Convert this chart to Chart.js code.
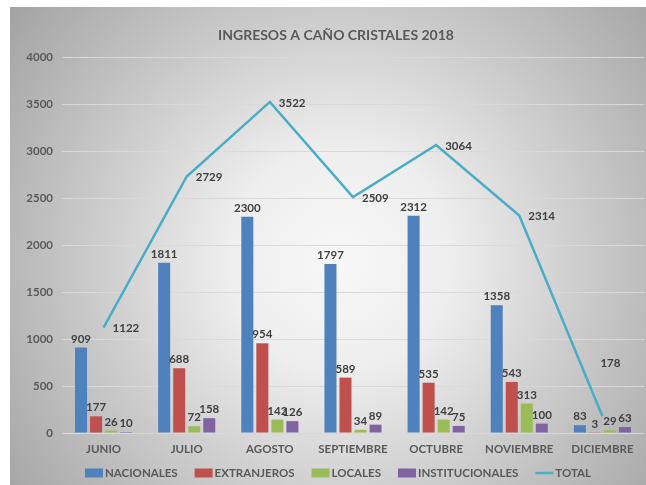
<!DOCTYPE html>
<html><head><meta charset="utf-8">
<script src="https://cdn.jsdelivr.net/npm/chart.js@4"></script>
<style>html,body{margin:0;padding:0;background:#fff;} #wrap{width:646px;height:485px;position:relative}</style>
</head><body><div id="wrap"><canvas id="c" width="646" height="485"></canvas></div>
<script>
const categories = ['JUNIO','JULIO','AGOSTO','SEPTIEMBRE','OCTUBRE','NOVIEMBRE','DICIEMBRE'];
const nacionales = [909, 1811, 2300, 1797, 2312, 1358, 83];
const extranjeros = [177, 688, 954, 589, 535, 543, 3];
const locales = [26, 72, 142, 34, 142, 313, 29];
const institucionales = [10, 158, 126, 89, 75, 100, 63];
const total = [1122, 2729, 3522, 2509, 3064, 2314, 178];
const seriesNames = ['NACIONALES','EXTRANJEROS','LOCALES','INSTITUCIONALES','TOTAL'];
const chartTitle = 'INGRESOS A CAÑO CRISTALES 2018';
const yMin = 0, yMax = 4000, yStep = 500;

const FONT = 'Lato';
const AXIS_COLOR = '#595959';
const LABEL_COLOR = '#404040';

const bgPlugin = {
  id: 'bg',
  beforeDraw(chart) {
    const ctx = chart.ctx;
    ctx.save();
    ctx.fillStyle = '#ffffff';
    ctx.fillRect(0, 0, chart.width, chart.height);
    const g = ctx.createRadialGradient(340, 260, 0, 340, 260, 450);
    g.addColorStop(0, '#f8f8f8');
    g.addColorStop(0.25, '#eeeeee');
    g.addColorStop(0.55, '#cbcbcb');
    g.addColorStop(0.8, '#b0b0b0');
    g.addColorStop(1, '#9a9a9a');
    ctx.fillStyle = g;
    ctx.fillRect(10, 7, chart.width - 10, chart.height - 7);
    ctx.restore();
  }
};

const labelPlugin = {
  id: 'labels',
  afterDatasetsDraw(chart, args, opts) {
    const ctx = chart.ctx;
    ctx.save();
    ctx.font = 'bold 11.5px ' + FONT;
    ctx.fillStyle = LABEL_COLOR;
    chart.data.datasets.forEach((ds, di) => {
      const meta = chart.getDatasetMeta(di);
      meta.data.forEach((el, i) => {
        const v = ds.data[i];
        if (ds.type === 'line') {
          const off = (opts.lineOffsets && opts.lineOffsets[i]) || [9, 1];
          ctx.textAlign = 'left';
          ctx.textBaseline = 'middle';
          ctx.fillText(String(v), el.x + off[0], el.y + off[1]);
        } else {
          ctx.textAlign = 'center';
          ctx.textBaseline = 'bottom';
          ctx.fillText(String(v), el.x, el.y - 3);
        }
      });
    });
    ctx.restore();
  },
  afterDraw(chart) {
    const ctx = chart.ctx;
    ctx.save();
    ctx.font = 'bold 14px ' + FONT;
    ctx.fillStyle = AXIS_COLOR;
    ctx.textAlign = 'center';
    ctx.textBaseline = 'middle';
    ctx.fillText(chartTitle, 336, 35);
    ctx.font = 'bold 11.5px ' + FONT;
    const boxW = 18, boxH = 9, gap = 2, spacing = 17, cy = 473;
    const items = chart.data.datasets.map(ds => ({
      label: ds.label, color: ds.type === 'line' ? ds.borderColor : ds.backgroundColor, line: ds.type === 'line',
      w: boxW + gap + ctx.measureText(ds.label).width
    }));
    const totalW = items.reduce((s, it) => s + it.w, 0) + spacing * (items.length - 1);
    let x = 338 - totalW / 2;
    ctx.textAlign = 'left';
    ctx.textBaseline = 'middle';
    items.forEach(it => {
      if (it.line) {
        ctx.strokeStyle = it.color;
        ctx.lineWidth = 2.5;
        ctx.beginPath();
        ctx.moveTo(x, cy);
        ctx.lineTo(x + boxW, cy);
        ctx.stroke();
      } else {
        ctx.fillStyle = it.color;
        ctx.fillRect(x, cy - boxH / 2, boxW, boxH);
      }
      ctx.fillStyle = AXIS_COLOR;
      ctx.fillText(it.label, x + boxW + gap, cy);
      x += it.w + spacing;
    });
    ctx.restore();
  }
};

const barOpts = { categoryPercentage: 0.723, barPercentage: 0.8 };

new Chart(document.getElementById('c'), {
  data: {
    labels: categories,
    datasets: [
      Object.assign({ type: 'bar', label: seriesNames[0], data: nacionales, backgroundColor: '#4F81BD' }, barOpts),
      Object.assign({ type: 'bar', label: seriesNames[1], data: extranjeros, backgroundColor: '#C0504D' }, barOpts),
      Object.assign({ type: 'bar', label: seriesNames[2], data: locales, backgroundColor: '#9BBB59' }, barOpts),
      Object.assign({ type: 'bar', label: seriesNames[3], data: institucionales, backgroundColor: '#8064A2' }, barOpts),
      { type: 'line', label: seriesNames[4], data: total, borderColor: '#4BACC6', backgroundColor: '#4BACC6',
        borderWidth: 2.5, pointRadius: 0, tension: 0, fill: false, order: -1 }
    ]
  },
  options: {
    responsive: false,
    animation: false,
    layout: { padding: { left: 10, top: 57, right: 2, bottom: 22 } },
    plugins: {
      legend: { display: false },
      title: { display: false },
      tooltip: { enabled: false },
      labels: { lineOffsets: { 6: [-2, -53] } }
    },
    scales: {
      x: {
        grid: { display: false, drawTicks: false },
        border: { display: false },
        ticks: { color: AXIS_COLOR, font: { family: FONT, size: 11.5, weight: 'bold' }, padding: 9, maxRotation: 0, autoSkip: false },
        afterFit(s) { s.height = 30; }
      },
      y: {
        min: yMin, max: yMax,
        grid: { color: '#d9d9d9', lineWidth: 1, drawTicks: false },
        border: { display: false },
        ticks: { stepSize: yStep, color: AXIS_COLOR, font: { family: FONT, size: 11.5, weight: 'bold' }, padding: 9,
          callback: (v) => String(v) },
        afterFit(s) { s.width = 52; }
      }
    }
  },
  plugins: [bgPlugin, labelPlugin]
});
</script>
</body></html>
